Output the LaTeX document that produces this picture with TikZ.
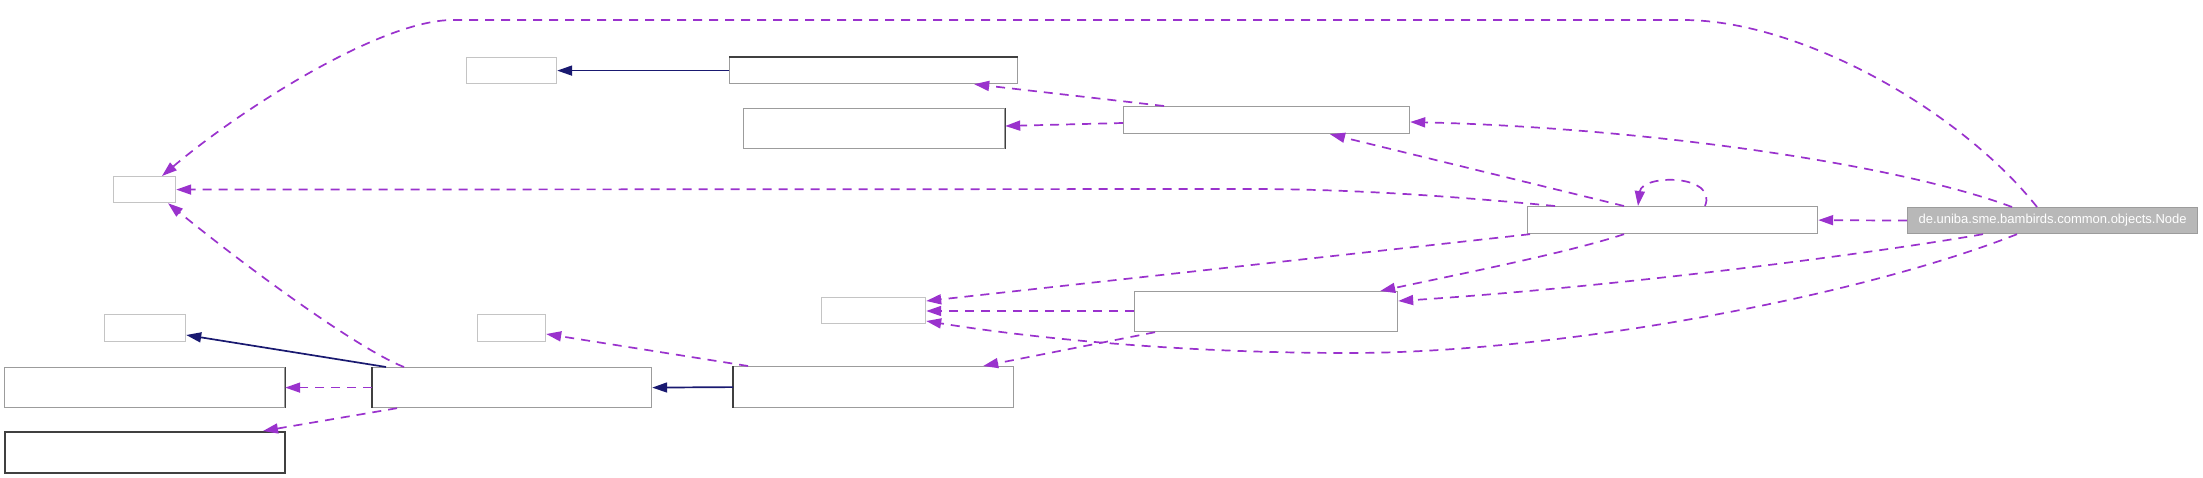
\documentclass[tikz,border=0pt]{standalone}
\usepackage{fontspec}
\setmainfont{Liberation Sans}
\usetikzlibrary{arrows.meta,calc}
\definecolor{dep}{HTML}{9A32CD}
\definecolor{inh}{HTML}{191970}
\definecolor{bord}{HTML}{9C9C9C}
\definecolor{lbord}{HTML}{C4C4C4}
\definecolor{dark}{HTML}{404040}
\definecolor{nodefill}{HTML}{B8B8B8}
\tikzset{
  box/.style={draw=bord,line width=1.2pt,fill=white,inner sep=0pt,anchor=north west},
  sbox/.style={box,draw=lbord},
  usedep/.style={draw=dep,line width=1.7pt,dash pattern=on 9pt off 7pt,-{Triangle[length=15pt,width=10pt,fill=dep]}},
  inherit/.style={draw=inh,line width=1.7pt,-{Triangle[length=15pt,width=10pt,fill=inh]}},
  darkedge/.style={draw=dark,line width=1.4pt}
}
\begin{document}
\begin{tikzpicture}[x=1pt,y=-1pt]
\useasboundingbox (0,0) rectangle (2203,478);
% boxes
\node[box,fill=nodefill,draw=bord,minimum width=290pt,minimum height=26pt,text=white,font=\fontsize{13}{15}\selectfont] (Node) at (1907,207) {de.uniba.sme.bambirds.common.objects.Node};
\node[box,minimum width=290pt,minimum height=27pt] (E) at (1527,206) {};
\node[box,minimum width=286pt,minimum height=27pt] (D) at (1123,106) {};
\node[sbox,minimum width=90pt,minimum height=26pt] (C1) at (466,57) {};
\node[box,minimum width=288pt,minimum height=26pt] (C2) at (729,57) {};
\node[box,minimum width=261pt,minimum height=40pt] (C3) at (743,108) {};
\node[sbox,minimum width=62pt,minimum height=26pt] (F) at (113,176) {};
\node[sbox,minimum width=104pt,minimum height=26pt] (H) at (821,297) {};
\node[box,minimum width=263pt,minimum height=40pt] (I) at (1134,291) {};
\node[box,minimum width=280pt,minimum height=41pt] (J) at (733,366) {};
\node[box,minimum width=279pt,minimum height=40pt] (G) at (372,367) {};
\node[sbox,minimum width=81pt,minimum height=27pt] (B1) at (104,314) {};
\node[sbox,minimum width=68pt,minimum height=27pt] (K) at (477,314) {};
\node[box,minimum width=280pt,minimum height=40pt] (L1) at (4,367) {};
\node[box,draw=dark,line width=1.5pt,minimum width=280pt,minimum height=41pt] (L2) at (4,431) {};
% darker border edges
\draw[darkedge] (C2.north west) -- (C2.north east);
\draw[darkedge] (C3.north east) -- (C3.south east);
\draw[darkedge] (L1.north east) -- (L1.south east);
\draw[darkedge] (G.north west) -- (G.south west);
\draw[darkedge] (J.north west) -- (J.south west);
% connectors
\draw[usedep] (Node.west) -- (E.east);
\draw[usedep] ($(Node.north west)+(105,0)$) .. controls (1900,165) and (1650,128) .. ($(D.north east)+(0,16)$);
\draw[usedep] ($(Node.north west)+(130,0)$) .. controls (1960,110) and (1800,20) .. (1683,20) -- (453,20) .. controls (380,20) and (240,110) .. ($(F.north west)+(49,0)$);
\draw[usedep] ($(Node.south west)+(76,0)$) .. controls (1850,257) and (1600,288) .. ($(I.north east)+(0,10)$);
\draw[usedep] ($(Node.south west)+(110,0)$) .. controls (1850,300) and (1550,353) .. (1350,353) .. controls (1150,353) and (1000,333) .. ($(H.north east)+(0,24)$);
\draw[usedep] ($(E.north west)+(28,0)$) .. controls (1450,196) and (1350,189) .. (1250,189) -- (F.east);
\draw[usedep] ($(E.north west)+(97,0)$) -- ($(D.south west)+(207,0)$);
\draw[usedep] ($(E.north west)+(178,0)$) .. controls (1718,174) and (1642,174) .. ($(E.north west)+(111,0)$);
\draw[usedep] ($(E.south west)+(3,0)$) -- ($(H.north east)+(0,4)$);
\draw[usedep] ($(E.south west)+(97,0)$) .. controls (1570,252) and (1470,272) .. ($(I.north east)+(-18,0)$);
\draw[usedep] ($(D.north west)+(41,0)$) -- ($(C2.south east)+(-44,0)$);
\draw[usedep] ($(D.north west)+(0,17)$) -- ($(C3.north east)+(0,18)$);
\draw[inherit] (C2.west) -- (C1.east);
\draw[usedep] ($(I.north west)+(0,20)$) -- ($(H.north east)+(0,14)$);
\draw[usedep] ($(I.south west)+(21,0)$) -- ($(J.north east)+(-31,0)$);
\draw[usedep] ($(J.north west)+(15,0)$) -- ($(K.north east)+(0,20)$);
\draw[inherit] (J.west) -- (G.east);
\draw[inherit] ($(G.north west)+(14,0)$) -- ($(B1.north east)+(0,21)$);
\draw[usedep] ($(G.north west)+(32,0)$) .. controls (360,350) and (250,270) .. ($(F.south west)+(55,0)$);
\draw[usedep] (G.west) -- (L1.east);
\draw[usedep] ($(G.south west)+(25,0)$) -- ($(L2.north west)+(259,0)$);
\end{tikzpicture}
\end{document}
